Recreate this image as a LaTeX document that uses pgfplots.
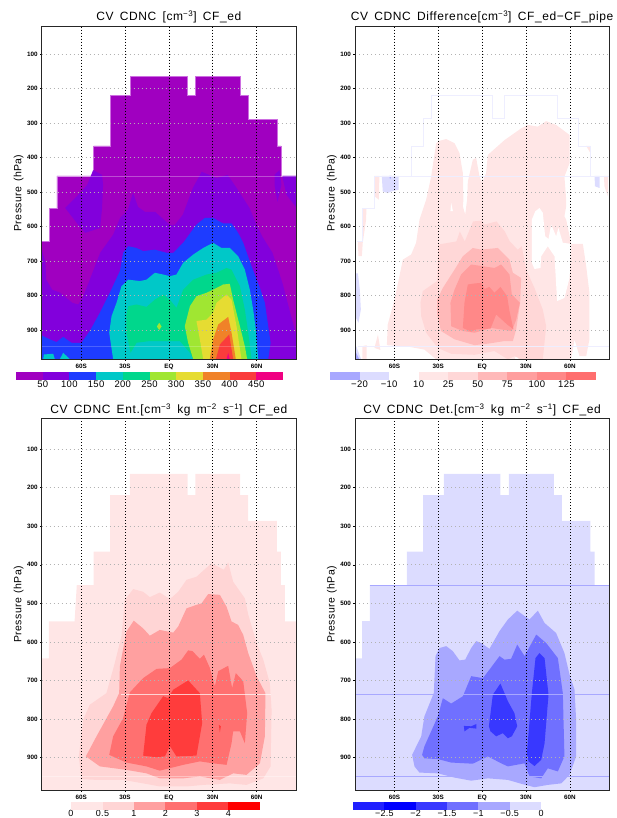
\documentclass[border=0pt]{standalone}
\usepackage{fontspec}
\usepackage{pgfplots}
\pgfplotsset{compat=1.18}
\setmainfont{Liberation Sans}
\newfontfamily\titlef[LetterSpace=5,WordSpace=1.6]{Liberation Sans}
\newfontfamily\cbf[LetterSpace=3]{Liberation Sans}
\newfontfamily\ylf[LetterSpace=4,WordSpace=1.4]{Liberation Sans}
\definecolor{a0}{RGB}{205,110,225}\definecolor{l1}{RGB}{238,238,255}
\definecolor{a1}{RGB}{160,0,192}\definecolor{a2}{RGB}{130,0,220}\definecolor{a3}{RGB}{30,60,255}
\definecolor{a4}{RGB}{0,200,200}\definecolor{a5}{RGB}{0,215,140}\definecolor{a6}{RGB}{160,230,50}
\definecolor{a7}{RGB}{230,220,50}\definecolor{a8}{RGB}{240,130,40}\definecolor{a9}{RGB}{250,60,60}\definecolor{a10}{RGB}{240,0,130}
\definecolor{r1}{RGB}{255,230,230}\definecolor{r2}{RGB}{255,215,215}\definecolor{r3}{RGB}{255,185,185}
\definecolor{r4}{RGB}{255,158,158}\definecolor{r5}{RGB}{255,136,136}\definecolor{r6}{RGB}{255,110,110}
\definecolor{s2}{RGB}{255,213,213}\definecolor{s3}{RGB}{255,160,160}\definecolor{s4}{RGB}{255,112,112}\definecolor{s5}{RGB}{255,60,60}\definecolor{s6}{RGB}{255,0,0}
\definecolor{b1}{RGB}{220,220,255}\definecolor{b2}{RGB}{168,168,255}\definecolor{b3}{RGB}{112,112,255}\definecolor{b4}{RGB}{56,56,255}\definecolor{b5}{RGB}{0,0,255}\definecolor{b6}{RGB}{32,32,255}
\pgfplotsset{
 panel/.style={scale only axis,anchor=south west,width=254.3pt,axis on top,
  xmin=-87,xmax=87,ymin=20,ymax=985,y dir=reverse,
  xtick={-60,-30,0,30,60},xticklabels={60S,30S,EQ,30N,60N},
  ytick={100,200,300,400,500,600,700,800,900},
  xtick pos=lower,ytick pos=left,xticklabel pos=lower,
  tick align=outside,major tick length=1.6pt,
  tick style={black,line width=.5pt},
  /pgf/number format/assume math mode=true,
  tick label style={font=\fontsize{6.3}{6.3}\selectfont\bfseries},
  xticklabel style={yshift=0.6pt},
  yticklabel style={xshift=1pt},
  xmajorgrids,ymajorgrids,
  x grid style={black,line width=.6pt,dash pattern=on 1pt off 2pt},
  y grid style={black!30,line width=.6pt,dash pattern=on 1pt off 3pt},
  axis line style={black!85,line width=.9pt},
  title style={font=\titlef\fontsize{12}{12}\selectfont,at={(0.5,1)},anchor=south,yshift=-6pt},
  ylabel={\ylf Pressure (hPa)},
  every axis y label/.style={at={(ticklabel cs:0.5)},xshift=-5pt,rotate=90,anchor=center,font=\fontsize{10.5}{10.5}\selectfont},
 },
 cbar/.style={scale only axis,anchor=south west,height=8pt,ymin=0,ymax=1,ytick=\empty,
  axis line style={draw=none},tick style={draw=none},major tick length=0pt,
  xtick pos=lower,
  tick label style={font=\cbf\fontsize{9.5}{9.5}\selectfont,inner ysep=1.5pt},
  xticklabel style={yshift=.5pt},clip=false},
 f/.style={draw=none,fill=#1,forget plot},
}
\begin{document}
\begin{tikzpicture}[x=1pt,y=1pt]
\path[use as bounding box] (0,0) rectangle (616,818);
% ---------- panel 1
\begin{axis}[panel,at={(41.7pt,458.7pt)},height=332.6pt,title={CV CDNC [cm\textsuperscript{−3}] CF\_ed}]
\addplot[fill=a1,draw=a0,line width=.6pt,forget plot] coordinates {(-87,985)(-87,642)(-82,642)(-82,547)(-76.6,547)(-76.6,453)(-51.5,453)(-51.5,366)(-40.1,366)(-40.1,220)(-26.5,220)(-26.5,165)(12.5,165)(12.5,220)(18.2,220)(18.2,165)(48.8,165)(48.8,220)(54.3,220)(54.3,288)(73.9,288)(73.9,366)(76.9,366)(76.9,453)(87,453)(87,985)} --cycle;
\addplot[f=a2] coordinates {(-87,985)(-87,667)(-84.5,702)(-83.9,754)(-79.8,783)(-74.3,792)(-66.1,821)(-62,826)(-58.6,803)(-47,676)(-38.2,624)(-33.4,575)(-28,551)(-24.5,502)(-21.1,543)(-16.4,557)(-9.5,557)(.7,595)(4.1,595)(9.5,566)(16.4,488)(22.5,441)(32.7,459)(40.2,450)(46.4,488)(55.2,546)(60,595)(64.1,630)(70.9,676)(77.7,763)(82.5,841)(87,913)(87,985)} --cycle;
\addplot[f=a2] coordinates {(-51.8,436)(-45.7,450)(-45,479)(-45.7,546)(-47,604)(-57.3,618)(-62,595)(-70.9,546)(-60.7,502)(-55.9,479)} --cycle;
\addplot[f=a2] coordinates {(72.3,450)(75.7,436)(77,479)(74.3,528)(72.3,479)} --cycle;
\addplot[f=a2] coordinates {(77.7,456)(80.5,508)(87,543)(87,453)(78,453)} --cycle;
\addplot[f=a3] coordinates {(-87,916)(-81.4,927)(-76.9,935)(-72.3,920)(-66.6,937)(-59.8,937)(-54.1,903)(-47.2,850)(-40.4,792)(-33.5,729)(-31.3,676)(-27.8,657)(-22.1,662)(-17.6,671)(-9.6,667)(-1.6,676)(3,676)(9.8,647)(18.9,594)(24.6,575)(30.3,575)(37.2,591)(42.9,591)(47.4,618)(50.9,647)(56.6,715)(62.3,778)(65.7,821)(68,889)(69.6,937)(68,985)(-87,985)} --cycle;
\addplot[f=a4] coordinates {(-38.1,985)(-40.8,908)(-39.2,860)(-35.8,821)(-32.4,773)(-27.8,754)(-19.8,758)(-15.3,754)(-9.6,734)(-3.9,739)(.7,744)(5.2,739)(9.8,705)(16.7,681)(23.5,662)(30.3,647)(36,662)(41.7,662)(47.4,686)(52,725)(55.4,783)(57.7,841)(59.5,898)(60.4,947)(61.1,985)} --cycle;
\addplot[f=a4] coordinates {(-86,985)(-85.5,971)(-79.1,969)(-78,985)} --cycle;
\addplot[f=a4] coordinates {(-74.6,985)(-72.3,966)(-67.7,985)} --cycle;
\addplot[f=a5] coordinates {(-26.2,966)(-29,908)(-29,855)(-27.8,831)(-22.1,826)(-15.3,833)(-9.6,812)(-3.9,797)(.7,812)(5.2,836)(9.8,783)(16.7,754)(25.8,739)(32.6,734)(39.5,720)(42.9,725)(48.6,773)(52,841)(54.3,908)(56.6,985)(16.7,985)(14.4,966)(7.5,932)(-13,932)(-22.1,937)} --cycle;
\addplot[f=a6] coordinates {(16.7,985)(13.2,937)(10.9,889)(14.4,831)(18.9,802)(25.8,792)(30.3,783)(37.2,768)(41.7,766)(44,812)(48.6,889)(52,947)(53.6,985)} --cycle;
\addplot[f=a6] coordinates {(-6.6,879)(-5,890)(-6.6,900)(-8.2,890)} --cycle;
\addplot[f=a7] coordinates {(23.5,985)(21.2,927)(18.9,874)(25.8,870)(30.3,850)(32.6,821)(39.5,797)(42.9,812)(46.3,889)(49.7,985)} --cycle;
\addplot[f=a8] coordinates {(28,985)(30.3,927)(33.8,884)(40.6,862)(42.9,908)(45.8,985)} --cycle;
\addplot[f=a9] coordinates {(32.2,985)(34.9,942)(41.3,913)(44,985)} --cycle;
\addplot[f=a10] coordinates {(39.5,985)(40.6,966)(41.7,985)} --cycle;
\addplot[white,opacity=.3,line width=.6pt,forget plot] coordinates {(-76.6,453)(87,453)};
\addplot[white,opacity=.2,line width=.6pt,forget plot] coordinates {(-87,948)(87,948)};
\end{axis}
\begin{axis}[cbar,at={(16pt,438pt)},width=267pt,xmin=0,xmax=10,xtick={1,...,9},xticklabels={50,100,150,200,250,300,350,400,450}]
\addplot[f=a1] coordinates {(0,0)(1,0)(1,1)(0,1)} --cycle;
\addplot[f=a2] coordinates {(1,0)(2,0)(2,1)(1,1)} --cycle;
\addplot[f=a3] coordinates {(2,0)(3,0)(3,1)(2,1)} --cycle;
\addplot[f=a4] coordinates {(3,0)(4,0)(4,1)(3,1)} --cycle;
\addplot[f=a5] coordinates {(4,0)(5,0)(5,1)(4,1)} --cycle;
\addplot[f=a6] coordinates {(5,0)(6,0)(6,1)(5,1)} --cycle;
\addplot[f=a7] coordinates {(6,0)(7,0)(7,1)(6,1)} --cycle;
\addplot[f=a8] coordinates {(7,0)(8,0)(8,1)(7,1)} --cycle;
\addplot[f=a9] coordinates {(8,0)(9,0)(9,1)(8,1)} --cycle;
\addplot[f=a10] coordinates {(9,0)(10,0)(10,1)(9,1)} --cycle;
\end{axis}
% ---------- panel 2
\begin{axis}[panel,at={(355pt,458.7pt)},height=332.6pt,title={CV CDNC Difference[cm\textsuperscript{−3}] CF\_ed−CF\_pipe}]
\addplot[f=r1] coordinates {(-65.2,944)(-64.6,884)(-60,812)(-56.6,744)(-54.3,696)(-48.6,681)(-45.2,647)(-42.9,580)(-38.3,522)(-34.9,455)(-31.5,358)(-29.2,351)(-24.6,346)(-18.9,358)(-15.5,387)(-13.2,445)(-12.8,522)(-13.2,541)(-11.6,565)(-10.3,522)(-9.8,469)(-6.4,406)(-4.1,401)(-1.8,455)(0,472)(2.7,445)(3.9,392)(15.3,349)(26.7,315)(31.3,305)(38.1,310)(43.8,294)(50.6,305)(59.8,334)(59.8,416)(56.3,455)(57.5,522)(57.5,541)(56.3,570)(57.5,580)(60.9,650)(68.9,650)(71.2,715)(73.4,792)(73.4,927)(71.2,976)(66.6,976)(63.2,927)(60.9,985)(-31.5,985)(-39.5,957)(-50.9,948)} --cycle;
\addplot[f=white] coordinates {(34,580)(36.3,556)(39.2,546)(41.5,560)(43.1,628)(45.4,636)(47.2,594)(50.6,628)(52.2,604)(55.2,647)(60.9,650)(59.8,749)(56.3,807)(51.3,816)(49.5,686)(44.9,657)(40.4,686)(39.9,720)(35.8,723)(34,705)} --cycle;
\addplot[f=white] coordinates {(-21.2,531)(-20,555)(-21.7,555)} --cycle;
\addplot[f=white] coordinates {(23.3,947)(24.9,985)(22.6,985)} --cycle;
\addplot[f=r1] coordinates {(-82,985)(-82,947)(-79,944)(-79,985)} --cycle;
\addplot[f=r1] coordinates {(-73.7,952)(-71.3,913)(-69.6,958)} --cycle;
\addplot[f=r1] coordinates {(-82.1,549)(-79.2,549)(-79.4,580)(-81.7,647)(-82.3,686)(-84.6,686)(-85.1,642)(-82.2,642)} --cycle;
\addplot[f=r1] coordinates {(-73.8,453)(-70.3,453)(-70.7,522)(-73.7,512)} --cycle;
\addplot[f=r1] coordinates {(83.3,453)(86,453)(86,512)(83.7,483)} --cycle;
\addplot[f=r1] coordinates {(71.2,366)(74.1,366)(74.1,387)} --cycle;
\addplot[f=b1] coordinates {(-68.7,453)(-57.2,453)(-57.2,493)(-62.2,498)(-64.5,503)(-68,498)} --cycle;
\addplot[f=b2] coordinates {(-63.5,453)(-62,453)(-63,463)} --cycle;
\addplot[f=b1] coordinates {(76.9,453)(80.3,453)(80.3,488)(77.2,483)} --cycle;
\addplot[f=b1] coordinates {(-87,736)(-85,736)(-83.7,783)(-83,841)(-84.6,879)(-87,859)} --cycle;
\addplot[f=b1] coordinates {(-86.2,947)(-82.8,985)(-87,985)} --cycle;
\addplot[f=b2] coordinates {(-87,960)(-84,985)(-87,985)} --cycle;
\addplot[f=r2] coordinates {(-42.2,821)(-40.6,787)(-30.8,758)(-29.9,652)(-17.6,643)(-15.3,614)(-11.9,643)(-6.2,585)(-.5,583)(1.8,594)(9.8,585)(15.5,614)(18.9,643)(24.4,667)(27.1,657)(30.1,725)(35.8,778)(41.5,841)(43.8,889)(41.5,985)(26.7,985)(22.1,976)(17.6,985)(8.4,961)(-5.2,972)(-21.2,969)(-30.3,952)(-38.3,908)(-41.7,860)} --cycle;
\addplot[f=r3] coordinates {(-30.8,812)(-26.9,778)(-18.9,725)(-13.2,686)(-6.4,662)(-.7,667)(10.7,662)(18.7,696)(21,734)(26.7,749)(26,821)(23.3,898)(21,932)(15.3,932)(5,939)(-5.2,944)(-18.9,927)(-28.1,903)(-30.8,855)} --cycle;
\addplot[f=r4] coordinates {(-21.7,821)(-18.9,783)(-14.4,739)(-7.5,710)(.5,715)(8.4,720)(13,710)(18.7,739)(20.3,797)(25.8,821)(23.3,870)(20.3,903)(6.2,894)(-5.2,908)(-13.2,903)(-21.2,889)} --cycle;
\addplot[f=r5] coordinates {(-13.2,894)(-12.1,821)(-9.8,768)(-5.2,765)(-.2,763)(1.6,781)(5,775)(8.4,792)(12.5,775)(17.1,802)(18.7,845)(21.4,898)(17.1,884)(9.6,855)(5.7,896)(-4.1,898)(-7.5,905)} --cycle;
\addplot[l1,line width=.5pt,forget plot] coordinates {(-85.3,642)(-82.1,642)(-82.1,546)(-73.9,546)(-73.9,453)(-48.6,453)(-48.6,366)(-40.1,366)(-40.1,286)(-34.9,286)(-34.9,220)(6.8,220)(6.8,286)(15.3,286)(15.3,220)(51.5,220)(51.5,286)(65.9,286)(65.9,366)(74.1,366)(74.1,453)};
\addplot[l1,line width=.5pt,forget plot] coordinates {(-73.9,453)(87,453)};
\addplot[l1,line width=.5pt,forget plot] coordinates {(-85,948)(87,948)};
\end{axis}
\begin{axis}[cbar,at={(330pt,438pt)},width=266pt,xmin=0,xmax=9,xtick={1,...,8},xticklabels={−20,−10,10,25,50,75,100,125}]
\addplot[f=b2] coordinates {(0,0)(1,0)(1,1)(0,1)} --cycle;
\addplot[f=b1] coordinates {(1,0)(2,0)(2,1)(1,1)} --cycle;
\addplot[f=r1] coordinates {(3,0)(4,0)(4,1)(3,1)} --cycle;
\addplot[f=r2] coordinates {(4,0)(5,0)(5,1)(4,1)} --cycle;
\addplot[f=r3] coordinates {(5,0)(6,0)(6,1)(5,1)} --cycle;
\addplot[f=r4] coordinates {(6,0)(7,0)(7,1)(6,1)} --cycle;
\addplot[f=r5] coordinates {(7,0)(8,0)(8,1)(7,1)} --cycle;
\addplot[f=r6] coordinates {(8,0)(9,0)(9,1)(8,1)} --cycle;
\end{axis}
% ---------- panel 3
\begin{axis}[panel,at={(41.7pt,27.7pt)},height=372pt,title={CV CDNC Ent.[cm\textsuperscript{−3} kg m\textsuperscript{−2} s\textsuperscript{−1}] CF\_ed},title style={yshift=-1.5pt}]
\addplot[f=r1] coordinates {(-87,985)(-87,643)(-82.1,643)(-82.1,547)(-64.5,547)(-63,453)(-51.5,453)(-51.5,366)(-40.1,366)(-40.1,219)(-26.7,219)(-26.7,164)(12.8,164)(12.8,219)(18.2,219)(18.2,164)(48.8,164)(48.8,219)(54.3,219)(54.3,286)(73.9,286)(73.9,366)(76.6,366)(76.6,453)(79.4,453)(79.4,547)(87,547)(87,985)} --cycle;
\addplot[f=s2] coordinates {(-61.6,897)(-59.8,956)(-49.5,958)(-31.3,958)(-17.6,967)(-6.2,975)(12.1,975)(23.5,971)(41.7,967)(53.1,971)(64.6,954)(69.6,923)(70.3,776)(69.1,707)(64.6,646)(60,603)(54.3,529)(52,487)(44,444)(40.6,394)(37.6,413)(29.2,396)(18.9,431)(12.1,439)(6.4,470)(.7,489)(-6.2,472)(-13,484)(-17.6,470)(-24.4,463)(-30.1,491)(-32.4,585)(-37,655)(-42.7,733)(-54.1,763)(-58.6,802)} --cycle;
\addplot[f=s3] coordinates {(-56.8,897)(-47.2,923)(-29,932)(-15.3,941)(-6.2,954)(9.8,954)(21.2,949)(34.9,958)(44,941)(53.1,945)(62.3,915)(65.7,845)(66.1,733)(60,689)(54.3,629)(50.9,582)(47.4,556)(42.9,547)(39.5,509)(34.9,478)(26.9,476)(22.4,500)(18.9,504)(12.1,513)(6.4,560)(3,576)(-6.2,569)(-13,584)(-17.6,565)(-24,545)(-29,573)(-33.5,663)(-34,733)(-38.1,767)(-49.5,845)} --cycle;
\addplot[f=s4] coordinates {(-40.8,893)(-38.1,845)(-31.3,798)(-26.7,731)(-17.6,694)(-8.4,670)(.7,668)(8.7,646)(13.2,622)(16.2,624)(21.2,644)(24,633)(28.1,668)(31.5,715)(33.8,676)(40.6,662)(43.3,720)(45.8,681)(50.9,702)(53.6,785)(52,863)(48.6,832)(44,832)(42.9,863)(39.5,919)(30.3,915)(21.2,910)(9.8,919)(-6.2,934)(-15.3,923)(-29,913)} --cycle;
\addplot[f=s5] coordinates {(-17.6,895)(-15.3,815)(-11.9,785)(-3.9,741)(-.5,746)(3,724)(13.2,700)(21.2,733)(22.8,811)(18.9,895)(5.2,897)(.7,870)(-2.7,897)(-8.4,899)(-14,897)} --cycle;
\addplot[f=s5] coordinates {(34.2,815)(35.6,819)(34.9,835)} --cycle;
\addplot[white,opacity=.7,line width=.6pt,forget plot] coordinates {(-33,735)(70,735)};
\addplot[white,opacity=.35,line width=.6pt,forget plot] coordinates {(-87,948)(87,948)};
\end{axis}
\begin{axis}[cbar,at={(71pt,8pt)},width=189pt,xmin=0,xmax=6,xtick={0,...,5},xticklabels={0,0.5,1,2,3,4},tick label style={font=\cbf\fontsize{9}{9}\selectfont,inner ysep=1pt}]
\addplot[f=r1] coordinates {(0,0)(1,0)(1,1)(0,1)} --cycle;
\addplot[f=s2] coordinates {(1,0)(2,0)(2,1)(1,1)} --cycle;
\addplot[f=s3] coordinates {(2,0)(3,0)(3,1)(2,1)} --cycle;
\addplot[f=s4] coordinates {(3,0)(4,0)(4,1)(3,1)} --cycle;
\addplot[f=s5] coordinates {(4,0)(5,0)(5,1)(4,1)} --cycle;
\addplot[f=s6] coordinates {(5,0)(6,0)(6,1)(5,1)} --cycle;
\end{axis}
% ---------- panel 4
\begin{axis}[panel,at={(355pt,27.7pt)},height=372pt,title={CV CDNC Det.[cm\textsuperscript{−3} kg m\textsuperscript{−2} s\textsuperscript{−1}] CF\_ed},title style={yshift=-1.5pt}]
\addplot[f=b1] coordinates {(-87,985)(-87,643)(-82.1,643)(-82.1,546)(-76.9,546)(-76.9,453)(-51.5,453)(-51.5,366)(-40.4,366)(-40.4,219)(-26.2,219)(-26.2,164)(12.5,164)(12.5,219)(18.2,219)(18.2,164)(49,164)(49,219)(54.5,219)(54.5,286)(74,286)(74,366)(76.9,366)(76.9,453)(87,453)(87,985)} --cycle;
\addplot[f=b2] coordinates {(-47.9,893)(-46.3,923)(-42.9,939)(-30.3,941)(-18.9,952)(-7.5,960)(3.9,954)(17.6,958)(26.7,968)(35.8,977)(44.9,971)(54.1,967)(59.8,945)(64.3,897)(64.3,802)(63.2,724)(59.8,685)(56.3,629)(50.6,577)(42.7,551)(38.1,519)(32.4,542)(29,533)(24,519)(17.6,542)(11.9,572)(5,618)(-.7,603)(-4.1,598)(-7.5,616)(-11.6,646)(-15.5,648)(-20.1,624)(-24.6,611)(-29.2,616)(-31.9,637)(-33.1,733)(-39.5,793)(-41.7,845)} --cycle;
\addplot[f=b3] coordinates {(-41.1,893)(-39.5,871)(-30.3,793)(-26.9,746)(-21.2,760)(-13.2,741)(-7.5,689)(.5,694)(5,672)(11.9,637)(15.3,646)(19.8,644)(24,607)(29,637)(37,581)(43.8,603)(51.8,642)(55.2,733)(56.3,897)(51.8,936)(44.9,928)(40.4,954)(32.4,949)(29,915)(17.6,923)(13,915)(3.9,897)(-6.4,916)(-21.2,913)(-30.3,904)(-39.5,902)} --cycle;
\addplot[f=b4] coordinates {(30.6,889)(34,733)(36.5,642)(39.2,629)(42.7,642)(45.4,737)(42.7,863)(40.4,906)(35.8,922)(31.7,910)} --cycle;
\addplot[f=b4] coordinates {(4.6,819)(7.3,737)(12.5,708)(17.6,754)(22.1,785)(24,819)(20.3,845)(17.6,850)(14.1,837)(9.6,845)(5.7,832)} --cycle;
\addplot[f=b4] coordinates {(-12.5,818)(-7.5,819)(-3.9,813)(-3.9,825)(-8.7,823)(-12.1,832)} --cycle;
\addplot[b2,line width=.6pt,forget plot] coordinates {(-76.9,453)(87,453)};
\addplot[b2,line width=.6pt,forget plot] coordinates {(-87,735)(87,735)};
\addplot[b2,line width=.6pt,forget plot] coordinates {(-87,948)(87,948)};
\end{axis}
\begin{axis}[cbar,at={(353pt,8pt)},width=188pt,xmin=0,xmax=6,xtick={1,...,6},xticklabels={−2.5,−2,−1.5,−1,−0.5,0},tick label style={font=\cbf\fontsize{9}{9}\selectfont,inner ysep=1pt}]
\addplot[f=b6] coordinates {(0,0)(1,0)(1,1)(0,1)} --cycle;
\addplot[f=b5] coordinates {(1,0)(2,0)(2,1)(1,1)} --cycle;
\addplot[f=b4] coordinates {(2,0)(3,0)(3,1)(2,1)} --cycle;
\addplot[f=b3] coordinates {(3,0)(4,0)(4,1)(3,1)} --cycle;
\addplot[f=b2] coordinates {(4,0)(5,0)(5,1)(4,1)} --cycle;
\addplot[f=b1] coordinates {(5,0)(6,0)(6,1)(5,1)} --cycle;
\end{axis}
\end{tikzpicture}
\end{document}
